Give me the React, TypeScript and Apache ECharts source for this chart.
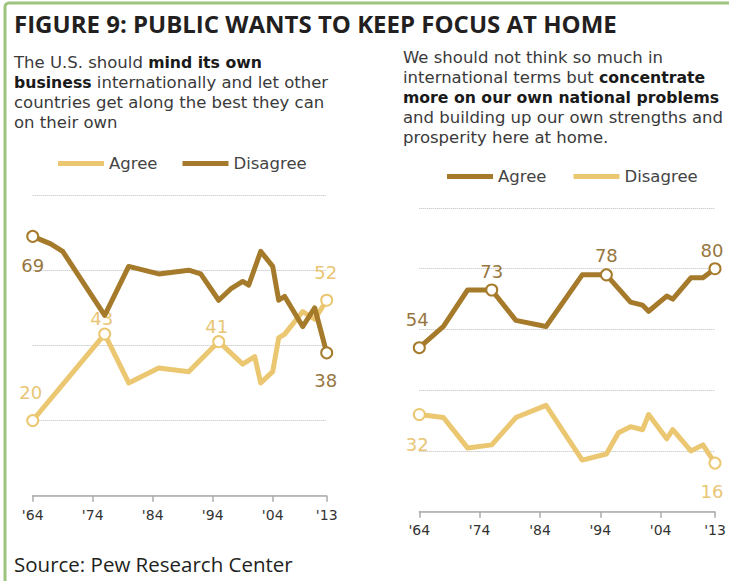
import React, { useEffect, useRef } from 'react';
import * as echarts from 'echarts';

const BASE_YEAR = 1964;
const END_YEAR = 2013;

// Left panel: "The U.S. should mind its own business internationally..."
const leftAgreeYears = [1964, 1976, 1980, 1985, 1990, 1995, 1999, 2001, 2002, 2004, 2005, 2006, 2009, 2011, 2013];
const leftAgreeValues = [20, 43, 30, 34, 33, 41, 35, 37, 30, 33, 42, 43, 49, 47, 52];
const leftDisagreeYears = [1964, 1967, 1969, 1976, 1980, 1985, 1990, 1992, 1995, 1997, 1999, 2000, 2002, 2004, 2005, 2006, 2009, 2011, 2013];
const leftDisagreeValues = [69, 67, 65, 48, 61, 59, 60, 59, 52, 55, 57, 56, 65, 61, 52, 53, 45, 50, 38];

// Right panel: "We should not think so much in international terms..."
const rightAgreeYears = [1964, 1968, 1972, 1976, 1980, 1985, 1991, 1995, 1999, 2001, 2002, 2005, 2006, 2009, 2011, 2013];
const rightAgreeValues = [54, 61, 73, 73, 63, 61, 78, 78, 69, 68, 66, 71, 70, 77, 77, 80];
const rightDisagreeYears = [1964, 1968, 1972, 1976, 1980, 1985, 1991, 1995, 1997, 1999, 2001, 2002, 2005, 2006, 2009, 2011, 2013];
const rightDisagreeValues = [32, 31, 21, 22, 31, 35, 17, 19, 26, 28, 27, 32, 24, 27, 20, 22, 16];

const tickYears = [1964, 1974, 1984, 1994, 2004, 2013];

const DARK = '#a57b2b';
const LIGHT = '#ebc771';
const DARK_LABEL = '#977741';
const LIGHT_LABEL = '#e8c675';
const FONT = '"DejaVu Sans", sans-serif';

type LabelSpec = { position: string; distance: number; offset?: number[] };

function buildData(years: number[], values: number[], labeled: Record<number, LabelSpec>, color: string, labelColor: string) {
  return years.map((yr, i) => {
    const item: any = { value: [yr - BASE_YEAR, values[i]] };
    const l = labeled[yr];
    if (l) {
      item.symbol = 'circle';
      item.symbolSize = 11;
      item.itemStyle = { color: '#ffffff', borderColor: color, borderWidth: 2 };
      item.label = {
        show: true,
        position: l.position,
        distance: l.distance,
        offset: l.offset || [0, 0],
        color: labelColor,
        fontSize: 18,
        fontFamily: FONT,
        formatter: String(values[i]),
      };
    }
    return item;
  });
}

function xAxisCfg(gridIndex: number, margin: number) {
  return {
    type: 'value',
    gridIndex,
    min: 0,
    max: END_YEAR - BASE_YEAR,
    interval: 10,
    axisLine: { show: true, lineStyle: { color: '#aaaaaa', width: 1.5 } },
    axisTick: { show: true, length: 6, lineStyle: { color: '#aaaaaa', width: 1.5 } },
    axisLabel: {
      margin,
      fontSize: 14,
      color: '#333333',
      fontFamily: FONT,
      formatter: (v: number) => {
        const yr = BASE_YEAR + v;
        return tickYears.indexOf(yr) >= 0 ? "'" + String(yr).slice(2) : '';
      },
    },
    splitLine: { show: false },
  };
}

function yAxisCfg(gridIndex: number, max: number) {
  return {
    type: 'value',
    gridIndex,
    min: 0,
    max,
    interval: 20,
    axisLine: { show: false },
    axisTick: { show: false },
    axisLabel: { show: false },
    splitLine: { show: true, lineStyle: { type: 'dotted', color: '#bbbbbb', width: 1 } },
  };
}

function lineSeries(name: string, idx: number, data: any[], color: string, z: number) {
  return {
    name,
    type: 'line',
    xAxisIndex: idx,
    yAxisIndex: idx,
    data,
    symbol: 'none',
    showSymbol: true,
    lineStyle: { color, width: 5, join: 'round', cap: 'round' },
    itemStyle: { color },
    z,
    emphasis: { disabled: true },
  };
}

const legendBase = {
  icon: 'rect',
  itemWidth: 46,
  itemHeight: 5,
  padding: 0,
  selectedMode: false,
  textStyle: { fontSize: 16.5, color: '#444444', fontFamily: FONT },
  formatter: (n: string) => n.split(' (')[0],
};

const richStyles = {
  n: { fontSize: 16.5, fontFamily: 'DejaVu Sans', fill: '#3a3a3a', lineHeight: 20 },
  b: { fontSize: 15.7, fontFamily: 'DejaVu Sans', fontWeight: 'bold', fill: '#1a1a1a', lineHeight: 20 },
};

export default function App() {
  const ref = useRef<HTMLDivElement>(null);
  useEffect(() => {
    const chart = echarts.init(ref.current!, null, { renderer: 'svg' });
    const option: any = {
      animation: false,
      backgroundColor: '#ffffff',
      grid: [
        { left: 32.7, top: 195, width: 294, height: 300.7 },
        { left: 419.3, top: 208, width: 295.7, height: 303.7 },
      ],
      xAxis: [xAxisCfg(0, 12), xAxisCfg(1, 11)],
      yAxis: [yAxisCfg(0, 80), yAxisCfg(1, 100)],
      legend: [
        { ...legendBase, data: ['Agree (L)', 'Disagree (L)'], left: 58, top: 155, itemGap: 25 },
        { ...legendBase, data: ['Agree (R)', 'Disagree (R)'], left: 447, top: 168, itemGap: 27 },
      ],
      series: [
        lineSeries('Agree (L)', 0, buildData(leftAgreeYears, leftAgreeValues, {
          1964: { position: 'top', distance: 13, offset: [-2, 0] },
          1976: { position: 'top', distance: 0, offset: [-3, 0] },
          1995: { position: 'top', distance: 0, offset: [-2, 0] },
          2013: { position: 'top', distance: 12, offset: [-1, 0] },
        }, LIGHT, LIGHT_LABEL), LIGHT, 2),
        lineSeries('Disagree (L)', 0, buildData(leftDisagreeYears, leftDisagreeValues, {
          1964: { position: 'bottom', distance: 14, offset: [0, 0] },
          2013: { position: 'bottom', distance: 12, offset: [-1, 0] },
        }, DARK, DARK_LABEL), DARK, 3),
        lineSeries('Disagree (R)', 1, buildData(rightDisagreeYears, rightDisagreeValues, {
          1964: { position: 'bottom', distance: 14, offset: [-2, 0] },
          2013: { position: 'bottom', distance: 13, offset: [-3, 0] },
        }, LIGHT, LIGHT_LABEL), LIGHT, 2),
        lineSeries('Agree (R)', 1, buildData(rightAgreeYears, rightAgreeValues, {
          1964: { position: 'top', distance: 13, offset: [-2, 0] },
          1976: { position: 'top', distance: 3, offset: [0, 0] },
          1995: { position: 'top', distance: 4, offset: [0, 0] },
          2013: { position: 'top', distance: 3, offset: [-3, 0] },
        }, DARK, DARK_LABEL), DARK, 3),
      ],
      graphic: [
        {
          type: 'rect',
          shape: { x: 5, y: 3, width: 760, height: 640, r: 4 },
          style: { fill: 'none', stroke: '#9cc47f', lineWidth: 3 },
          silent: true,
        },
        {
          type: 'text',
          x: 14,
          y: 23,
          style: {
            text: 'FIGURE 9: PUBLIC WANTS TO KEEP FOCUS AT HOME',
            font: 'bold 24px "Open Sans", sans-serif',
            fill: '#231f20',
            verticalAlign: 'middle',
          },
        },
        {
          type: 'text',
          x: 14,
          y: 52,
          style: {
            text: '{n|The U.S. should }{b|mind its own}\n{b|business}{n| internationally and let other}\n{n|countries get along the best they can}\n{n|on their own}',
            verticalAlign: 'top',
            lineHeight: 20,
            fill: '#333333',
            font: '16px "DejaVu Sans", sans-serif',
            rich: richStyles,
          },
        },
        {
          type: 'text',
          x: 403,
          y: 47,
          style: {
            text: '{n|We should not think so much in}\n{n|international terms but }{b|concentrate}\n{b|more on our own national problems}\n{n|and building up our own strengths and}\n{n|prosperity here at home.}',
            verticalAlign: 'top',
            lineHeight: 20,
            fill: '#333333',
            font: '16px "DejaVu Sans", sans-serif',
            rich: richStyles,
          },
        },
        {
          type: 'text',
          x: 14,
          y: 564,
          style: {
            text: 'Source: Pew Research Center',
            font: '20.5px "Open Sans", sans-serif',
            fill: '#231f20',
            verticalAlign: 'middle',
          },
        },
      ],
    };
    chart.setOption(option);
    return () => chart.dispose();
  }, []);
  return (
    <div
      ref={ref}
      style={{ position: 'fixed', left: 0, top: 0, width: 729, height: 581, background: '#ffffff' }}
    />
  );
}
